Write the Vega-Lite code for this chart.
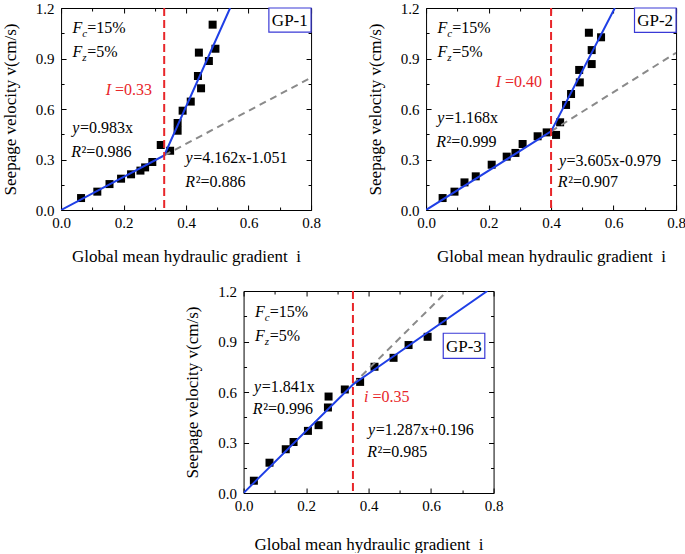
{
  "$schema": "https://vega.github.io/schema/vega-lite/v6.json",
  "background": "white",
  "padding": {"left": 0, "top": 0, "right": 0, "bottom": 0},
  "config": {
    "font": "Liberation Serif",
    "view": {"stroke": "black", "strokeWidth": 1},
    "axis": {"domain": false, "grid": false, "tickColor": "black", "tickWidth": 1, "labelFont": "Liberation Serif", "labelFontSize": 15, "labelColor": "black", "titleFont": "Liberation Serif", "titleFontSize": 17, "titleFontWeight": "normal", "titleColor": "black"}
  },
  "datasets": {
    "points": [
      {"panel": "GP-1", "i": 0.064, "v": 0.071}, {"panel": "GP-1", "i": 0.116, "v": 0.109}, {"panel": "GP-1", "i": 0.155, "v": 0.154}, {"panel": "GP-1", "i": 0.192, "v": 0.186}, {"panel": "GP-1", "i": 0.224, "v": 0.212}, {"panel": "GP-1", "i": 0.254, "v": 0.234}, {"panel": "GP-1", "i": 0.269, "v": 0.253}, {"panel": "GP-1", "i": 0.292, "v": 0.285}, {"panel": "GP-1", "i": 0.319, "v": 0.386}, {"panel": "GP-1", "i": 0.349, "v": 0.352}, {"panel": "GP-1", "i": 0.373, "v": 0.471}, {"panel": "GP-1", "i": 0.373, "v": 0.517}, {"panel": "GP-1", "i": 0.389, "v": 0.59}, {"panel": "GP-1", "i": 0.415, "v": 0.644}, {"panel": "GP-1", "i": 0.438, "v": 0.796}, {"panel": "GP-1", "i": 0.448, "v": 0.723}, {"panel": "GP-1", "i": 0.441, "v": 0.935}, {"panel": "GP-1", "i": 0.473, "v": 0.885}, {"panel": "GP-1", "i": 0.494, "v": 0.958}, {"panel": "GP-1", "i": 0.485, "v": 1.101},
      {"panel": "GP-2", "i": 0.053, "v": 0.071}, {"panel": "GP-2", "i": 0.091, "v": 0.109}, {"panel": "GP-2", "i": 0.123, "v": 0.164}, {"panel": "GP-2", "i": 0.159, "v": 0.2}, {"panel": "GP-2", "i": 0.21, "v": 0.269}, {"panel": "GP-2", "i": 0.258, "v": 0.317}, {"panel": "GP-2", "i": 0.286, "v": 0.339}, {"panel": "GP-2", "i": 0.309, "v": 0.392}, {"panel": "GP-2", "i": 0.357, "v": 0.438}, {"panel": "GP-2", "i": 0.386, "v": 0.461}, {"panel": "GP-2", "i": 0.416, "v": 0.446}, {"panel": "GP-2", "i": 0.429, "v": 0.521}, {"panel": "GP-2", "i": 0.448, "v": 0.624}, {"panel": "GP-2", "i": 0.464, "v": 0.689}, {"panel": "GP-2", "i": 0.492, "v": 0.758}, {"panel": "GP-2", "i": 0.49, "v": 0.832}, {"panel": "GP-2", "i": 0.53, "v": 0.867}, {"panel": "GP-2", "i": 0.53, "v": 0.95}, {"panel": "GP-2", "i": 0.521, "v": 1.053}, {"panel": "GP-2", "i": 0.56, "v": 1.026},
      {"panel": "GP-3", "i": 0.033, "v": 0.073}, {"panel": "GP-3", "i": 0.083, "v": 0.18}, {"panel": "GP-3", "i": 0.135, "v": 0.26}, {"panel": "GP-3", "i": 0.16, "v": 0.303}, {"panel": "GP-3", "i": 0.206, "v": 0.369}, {"panel": "GP-3", "i": 0.24, "v": 0.403}, {"panel": "GP-3", "i": 0.27, "v": 0.508}, {"panel": "GP-3", "i": 0.272, "v": 0.573}, {"panel": "GP-3", "i": 0.324, "v": 0.615}, {"panel": "GP-3", "i": 0.373, "v": 0.66}, {"panel": "GP-3", "i": 0.419, "v": 0.75}, {"panel": "GP-3", "i": 0.48, "v": 0.803}, {"panel": "GP-3", "i": 0.528, "v": 0.879}, {"panel": "GP-3", "i": 0.589, "v": 0.928}, {"panel": "GP-3", "i": 0.637, "v": 1.021}
    ],
    "fits": [
      {"panel": "GP-1", "kind": "fit", "i": 0, "v": 0}, {"panel": "GP-1", "kind": "fit", "i": 0.33, "v": 0.324}, {"panel": "GP-1", "kind": "fit", "i": 0.541, "v": 1.2},
      {"panel": "GP-1", "kind": "ext", "i": 0.33, "v": 0.324}, {"panel": "GP-1", "kind": "ext", "i": 0.8, "v": 0.786},
      {"panel": "GP-2", "kind": "fit", "i": 0, "v": 0}, {"panel": "GP-2", "kind": "fit", "i": 0.4, "v": 0.467}, {"panel": "GP-2", "kind": "fit", "i": 0.604, "v": 1.2},
      {"panel": "GP-2", "kind": "ext", "i": 0.4, "v": 0.467}, {"panel": "GP-2", "kind": "ext", "i": 0.8, "v": 0.934},
      {"panel": "GP-3", "kind": "fit", "i": 0, "v": 0}, {"panel": "GP-3", "kind": "fit", "i": 0.35, "v": 0.645}, {"panel": "GP-3", "kind": "fit", "i": 0.78, "v": 1.2},
      {"panel": "GP-3", "kind": "ext", "i": 0.35, "v": 0.645}, {"panel": "GP-3", "kind": "ext", "i": 0.652, "v": 1.2}
    ],
    "crit": [
      {"panel": "GP-1", "i": 0.33}, {"panel": "GP-2", "i": 0.4}, {"panel": "GP-3", "i": 0.35}
    ],
    "boxes": [
      {"panel": "GP-1", "x0": 0.665, "x1": 0.8, "y0": 1.057, "y1": 1.2, "tx": 0.732, "ty": 1.122, "label": "GP-1"},
      {"panel": "GP-2", "x0": 0.667, "x1": 0.8, "y0": 1.055, "y1": 1.2, "tx": 0.733, "ty": 1.12, "label": "GP-2"},
      {"panel": "GP-3", "x0": 0.639, "x1": 0.772, "y0": 0.8, "y1": 0.949, "tx": 0.705, "ty": 0.87, "label": "GP-3"}
    ],
    "notes": [
      {"panel": "GP-1", "kind": "frac", "x": 0.068, "y": 1.05, "lead": "F", "sub": "c", "rest": "=15%"},
      {"panel": "GP-1", "kind": "frac", "x": 0.068, "y": 0.907, "lead": "F", "sub": "z", "rest": "=5%"},
      {"panel": "GP-1", "kind": "crit", "x": 0.16, "y": 0.685, "lead": "I", "sub": "", "rest": "=0.33"},
      {"panel": "GP-1", "kind": "eq", "x": 0.0587, "y": 0.457, "lead": "y", "sub": "", "rest": "=0.983x"},
      {"panel": "GP-1", "kind": "eq", "x": 0.064, "y": 0.313, "lead": "R", "sub": "", "rest": "²=0.986"},
      {"panel": "GP-1", "kind": "eq", "x": 0.421, "y": 0.279, "lead": "y", "sub": "", "rest": "=4.162x-1.051"},
      {"panel": "GP-1", "kind": "eq", "x": 0.429, "y": 0.139, "lead": "R", "sub": "", "rest": "²=0.886"},
      {"panel": "GP-2", "kind": "frac", "x": 0.068, "y": 1.05, "lead": "F", "sub": "c", "rest": "=15%"},
      {"panel": "GP-2", "kind": "frac", "x": 0.068, "y": 0.907, "lead": "F", "sub": "z", "rest": "=5%"},
      {"panel": "GP-2", "kind": "crit", "x": 0.24, "y": 0.73, "lead": "I", "sub": "", "rest": "=0.40"},
      {"panel": "GP-2", "kind": "eq", "x": 0.0587, "y": 0.515, "lead": "y", "sub": "", "rest": "=1.168x"},
      {"panel": "GP-2", "kind": "eq", "x": 0.064, "y": 0.372, "lead": "R", "sub": "", "rest": "²=0.999"},
      {"panel": "GP-2", "kind": "eq", "x": 0.448, "y": 0.263, "lead": "y", "sub": "", "rest": "=3.605x-0.979"},
      {"panel": "GP-2", "kind": "eq", "x": 0.453, "y": 0.135, "lead": "R", "sub": "", "rest": "²=0.907"},
      {"panel": "GP-3", "kind": "frac", "x": 0.068, "y": 1.047, "lead": "F", "sub": "c", "rest": "=15%"},
      {"panel": "GP-3", "kind": "frac", "x": 0.068, "y": 0.902, "lead": "F", "sub": "z", "rest": "=5%"},
      {"panel": "GP-3", "kind": "eq", "x": 0.0565, "y": 0.601, "lead": "y", "sub": "", "rest": "=1.841x"},
      {"panel": "GP-3", "kind": "eq", "x": 0.061, "y": 0.472, "lead": "R", "sub": "", "rest": "²=0.996"},
      {"panel": "GP-3", "kind": "crit", "x": 0.4, "y": 0.538, "lead": "i", "sub": "", "rest": "=0.35"},
      {"panel": "GP-3", "kind": "eq", "x": 0.421, "y": 0.343, "lead": "y", "sub": "", "rest": "=1.287x+0.196"},
      {"panel": "GP-3", "kind": "eq", "x": 0.427, "y": 0.214, "lead": "R", "sub": "", "rest": "²=0.985"}
    ]
  },
  "spacing": 18,
  "center": true,
  "vconcat": [
    {
      "spacing": 44,
      "hconcat": [
        {
          "width": 250, "height": 202,
          "resolve": {"axis": {"x": "independent", "y": "independent"}},
          "layer": [
            {"data": {"name": "points"}, "transform": [{"filter": "datum.panel === 'GP-1'"}],
             "mark": {"type": "square", "size": 64, "color": "black", "opacity": 1},
             "encoding": {
               "x": {"field": "i", "type": "quantitative", "scale": {"domain": [0, 0.8], "nice": false, "zero": false},
                     "axis": {"orient": "bottom", "values": [0, 0.1, 0.2, 0.3, 0.4, 0.5, 0.6, 0.7, 0.8], "labelExpr": "round(datum.value*10)%2===0 ? format(datum.value,'.1f') : ''", "tickSize": {"condition": {"test": "round(datum.value*10)%2===0", "value": -5}, "value": -3}, "title": "Global mean hydraulic gradient\u00a0 i", "labelFlush": false, "labelOverlap": false, "labelPadding": 10, "titlePadding": 16}},
               "y": {"field": "v", "type": "quantitative", "scale": {"domain": [0, 1.2], "nice": false, "zero": false},
                     "axis": {"orient": "left", "values": [0, 0.15, 0.3, 0.45, 0.6, 0.75, 0.9, 1.05, 1.2], "labelExpr": "round(datum.value/0.15)%2===0 ? format(datum.value,'.1f') : ''", "tickSize": {"condition": {"test": "round(datum.value/0.15)%2===0", "value": -5}, "value": -3}, "title": "Seepage velocity v(cm/s)", "labelFlush": false, "labelOverlap": false, "labelPadding": 12, "titlePadding": 16}}
             }},
            {"data": {"name": "fits"}, "transform": [{"filter": "datum.panel === 'GP-1' && datum.kind === 'ext'"}],
             "mark": {"type": "line", "color": "#8a8a8a", "strokeWidth": 2, "strokeDash": [7, 5], "clip": true},
             "encoding": {"x": {"field": "i", "type": "quantitative", "axis": null}, "y": {"field": "v", "type": "quantitative", "axis": null}}},
            {"data": {"name": "fits"}, "transform": [{"filter": "datum.panel === 'GP-1' && datum.kind === 'fit'"}],
             "mark": {"type": "line", "color": "#1f3fe6", "strokeWidth": 2, "clip": true},
             "encoding": {
               "x": {"field": "i", "type": "quantitative", "axis": {"orient": "top", "values": [0, 0.1, 0.2, 0.3, 0.4, 0.5, 0.6, 0.7, 0.8], "labels": false, "title": null, "tickSize": {"condition": {"test": "round(datum.value*10)%2===0", "value": -5}, "value": -3}}},
               "y": {"field": "v", "type": "quantitative", "axis": {"orient": "right", "values": [0, 0.15, 0.3, 0.45, 0.6, 0.75, 0.9, 1.05, 1.2], "labels": false, "title": null, "tickSize": {"condition": {"test": "round(datum.value/0.15)%2===0", "value": -5}, "value": -3}}}
             }},
            {"data": {"name": "crit"}, "transform": [{"filter": "datum.panel === 'GP-1'"}],
             "mark": {"type": "rule", "color": "#e8262a", "strokeWidth": 2, "strokeDash": [8, 4]},
             "encoding": {"x": {"field": "i", "type": "quantitative", "axis": null}}},
            {"data": {"name": "boxes"}, "transform": [{"filter": "datum.panel === 'GP-1'"}],
             "mark": {"type": "rect", "fill": "white", "stroke": "#3a3ad6", "strokeWidth": 1.2},
             "encoding": {"x": {"field": "x0", "type": "quantitative", "axis": null}, "x2": {"field": "x1"}, "y": {"field": "y0", "type": "quantitative", "axis": null}, "y2": {"field": "y1"}}},
            {"data": {"name": "boxes"}, "transform": [{"filter": "datum.panel === 'GP-1'"}],
             "mark": {"type": "text", "fontSize": 17, "align": "center", "baseline": "middle", "color": "black"},
             "encoding": {"x": {"field": "tx", "type": "quantitative", "axis": null}, "y": {"field": "ty", "type": "quantitative", "axis": null}, "text": {"field": "label"}}},
            {"data": {"name": "notes"}, "transform": [{"filter": "datum.panel === 'GP-1'"}],
             "mark": {"type": "text", "fontSize": 16, "fontStyle": "italic", "align": "right", "baseline": "alphabetic"},
             "encoding": {"x": {"field": "x", "type": "quantitative", "axis": null}, "y": {"field": "y", "type": "quantitative", "axis": null}, "text": {"field": "lead"}, "color": {"condition": {"test": "datum.kind === 'crit'", "value": "#e8262a"}, "value": "black"}}},
            {"data": {"name": "notes"}, "transform": [{"filter": "datum.panel === 'GP-1' && datum.kind === 'frac'"}],
             "mark": {"type": "text", "fontSize": 11, "fontStyle": "italic", "align": "left", "baseline": "alphabetic", "dy": 4, "color": "black"},
             "encoding": {"x": {"field": "x", "type": "quantitative", "axis": null}, "y": {"field": "y", "type": "quantitative", "axis": null}, "text": {"field": "sub"}}},
            {"data": {"name": "notes"}, "transform": [{"filter": "datum.panel === 'GP-1' && datum.kind === 'frac'"}],
             "mark": {"type": "text", "fontSize": 16, "align": "left", "baseline": "alphabetic", "dx": 5, "color": "black"},
             "encoding": {"x": {"field": "x", "type": "quantitative", "axis": null}, "y": {"field": "y", "type": "quantitative", "axis": null}, "text": {"field": "rest"}}},
            {"data": {"name": "notes"}, "transform": [{"filter": "datum.panel === 'GP-1' && datum.kind === 'eq'"}],
             "mark": {"type": "text", "fontSize": 16, "align": "left", "baseline": "alphabetic", "dx": 0.5, "color": "black"},
             "encoding": {"x": {"field": "x", "type": "quantitative", "axis": null}, "y": {"field": "y", "type": "quantitative", "axis": null}, "text": {"field": "rest"}}},
            {"data": {"name": "notes"}, "transform": [{"filter": "datum.panel === 'GP-1' && datum.kind === 'crit'"}],
             "mark": {"type": "text", "fontSize": 16, "align": "left", "baseline": "alphabetic", "dx": 4, "color": "#e8262a"},
             "encoding": {"x": {"field": "x", "type": "quantitative", "axis": null}, "y": {"field": "y", "type": "quantitative", "axis": null}, "text": {"field": "rest"}}}
          ]
        },
        {
          "width": 250, "height": 202,
          "resolve": {"axis": {"x": "independent", "y": "independent"}},
          "layer": [
            {"data": {"name": "points"}, "transform": [{"filter": "datum.panel === 'GP-2'"}],
             "mark": {"type": "square", "size": 64, "color": "black", "opacity": 1},
             "encoding": {
               "x": {"field": "i", "type": "quantitative", "scale": {"domain": [0, 0.8], "nice": false, "zero": false},
                     "axis": {"orient": "bottom", "values": [0, 0.1, 0.2, 0.3, 0.4, 0.5, 0.6, 0.7, 0.8], "labelExpr": "round(datum.value*10)%2===0 ? format(datum.value,'.1f') : ''", "tickSize": {"condition": {"test": "round(datum.value*10)%2===0", "value": -5}, "value": -3}, "title": "Global mean hydraulic gradient\u00a0 i", "labelFlush": false, "labelOverlap": false, "labelPadding": 10, "titlePadding": 16}},
               "y": {"field": "v", "type": "quantitative", "scale": {"domain": [0, 1.2], "nice": false, "zero": false},
                     "axis": {"orient": "left", "values": [0, 0.15, 0.3, 0.45, 0.6, 0.75, 0.9, 1.05, 1.2], "labelExpr": "round(datum.value/0.15)%2===0 ? format(datum.value,'.1f') : ''", "tickSize": {"condition": {"test": "round(datum.value/0.15)%2===0", "value": -5}, "value": -3}, "title": "Seepage velocity v(cm/s)", "labelFlush": false, "labelOverlap": false, "labelPadding": 12, "titlePadding": 16}}
             }},
            {"data": {"name": "fits"}, "transform": [{"filter": "datum.panel === 'GP-2' && datum.kind === 'ext'"}],
             "mark": {"type": "line", "color": "#8a8a8a", "strokeWidth": 2, "strokeDash": [7, 5], "clip": true},
             "encoding": {"x": {"field": "i", "type": "quantitative", "axis": null}, "y": {"field": "v", "type": "quantitative", "axis": null}}},
            {"data": {"name": "fits"}, "transform": [{"filter": "datum.panel === 'GP-2' && datum.kind === 'fit'"}],
             "mark": {"type": "line", "color": "#1f3fe6", "strokeWidth": 2, "clip": true},
             "encoding": {
               "x": {"field": "i", "type": "quantitative", "axis": {"orient": "top", "values": [0, 0.1, 0.2, 0.3, 0.4, 0.5, 0.6, 0.7, 0.8], "labels": false, "title": null, "tickSize": {"condition": {"test": "round(datum.value*10)%2===0", "value": -5}, "value": -3}}},
               "y": {"field": "v", "type": "quantitative", "axis": {"orient": "right", "values": [0, 0.15, 0.3, 0.45, 0.6, 0.75, 0.9, 1.05, 1.2], "labels": false, "title": null, "tickSize": {"condition": {"test": "round(datum.value/0.15)%2===0", "value": -5}, "value": -3}}}
             }},
            {"data": {"name": "crit"}, "transform": [{"filter": "datum.panel === 'GP-2'"}],
             "mark": {"type": "rule", "color": "#e8262a", "strokeWidth": 2, "strokeDash": [8, 4]},
             "encoding": {"x": {"field": "i", "type": "quantitative", "axis": null}}},
            {"data": {"name": "boxes"}, "transform": [{"filter": "datum.panel === 'GP-2'"}],
             "mark": {"type": "rect", "fill": "white", "stroke": "#3a3ad6", "strokeWidth": 1.2},
             "encoding": {"x": {"field": "x0", "type": "quantitative", "axis": null}, "x2": {"field": "x1"}, "y": {"field": "y0", "type": "quantitative", "axis": null}, "y2": {"field": "y1"}}},
            {"data": {"name": "boxes"}, "transform": [{"filter": "datum.panel === 'GP-2'"}],
             "mark": {"type": "text", "fontSize": 17, "align": "center", "baseline": "middle", "color": "black"},
             "encoding": {"x": {"field": "tx", "type": "quantitative", "axis": null}, "y": {"field": "ty", "type": "quantitative", "axis": null}, "text": {"field": "label"}}},
            {"data": {"name": "notes"}, "transform": [{"filter": "datum.panel === 'GP-2'"}],
             "mark": {"type": "text", "fontSize": 16, "fontStyle": "italic", "align": "right", "baseline": "alphabetic"},
             "encoding": {"x": {"field": "x", "type": "quantitative", "axis": null}, "y": {"field": "y", "type": "quantitative", "axis": null}, "text": {"field": "lead"}, "color": {"condition": {"test": "datum.kind === 'crit'", "value": "#e8262a"}, "value": "black"}}},
            {"data": {"name": "notes"}, "transform": [{"filter": "datum.panel === 'GP-2' && datum.kind === 'frac'"}],
             "mark": {"type": "text", "fontSize": 11, "fontStyle": "italic", "align": "left", "baseline": "alphabetic", "dy": 4, "color": "black"},
             "encoding": {"x": {"field": "x", "type": "quantitative", "axis": null}, "y": {"field": "y", "type": "quantitative", "axis": null}, "text": {"field": "sub"}}},
            {"data": {"name": "notes"}, "transform": [{"filter": "datum.panel === 'GP-2' && datum.kind === 'frac'"}],
             "mark": {"type": "text", "fontSize": 16, "align": "left", "baseline": "alphabetic", "dx": 5, "color": "black"},
             "encoding": {"x": {"field": "x", "type": "quantitative", "axis": null}, "y": {"field": "y", "type": "quantitative", "axis": null}, "text": {"field": "rest"}}},
            {"data": {"name": "notes"}, "transform": [{"filter": "datum.panel === 'GP-2' && datum.kind === 'eq'"}],
             "mark": {"type": "text", "fontSize": 16, "align": "left", "baseline": "alphabetic", "dx": 0.5, "color": "black"},
             "encoding": {"x": {"field": "x", "type": "quantitative", "axis": null}, "y": {"field": "y", "type": "quantitative", "axis": null}, "text": {"field": "rest"}}},
            {"data": {"name": "notes"}, "transform": [{"filter": "datum.panel === 'GP-2' && datum.kind === 'crit'"}],
             "mark": {"type": "text", "fontSize": 16, "align": "left", "baseline": "alphabetic", "dx": 4, "color": "#e8262a"},
             "encoding": {"x": {"field": "x", "type": "quantitative", "axis": null}, "y": {"field": "y", "type": "quantitative", "axis": null}, "text": {"field": "rest"}}}
          ]
        }
      ]
    },
    {
      "width": 250, "height": 202,
      "resolve": {"axis": {"x": "independent", "y": "independent"}},
      "layer": [
        {"data": {"name": "points"}, "transform": [{"filter": "datum.panel === 'GP-3'"}],
         "mark": {"type": "square", "size": 64, "color": "black", "opacity": 1},
         "encoding": {
           "x": {"field": "i", "type": "quantitative", "scale": {"domain": [0, 0.8], "nice": false, "zero": false},
                 "axis": {"orient": "bottom", "values": [0, 0.1, 0.2, 0.3, 0.4, 0.5, 0.6, 0.7, 0.8], "labelExpr": "round(datum.value*10)%2===0 ? format(datum.value,'.1f') : ''", "tickSize": {"condition": {"test": "round(datum.value*10)%2===0", "value": -5}, "value": -3}, "title": "Global mean hydraulic gradient\u00a0 i", "labelFlush": false, "labelOverlap": false, "labelPadding": 10, "titlePadding": 21}},
           "y": {"field": "v", "type": "quantitative", "scale": {"domain": [0, 1.2], "nice": false, "zero": false},
                 "axis": {"orient": "left", "values": [0, 0.15, 0.3, 0.45, 0.6, 0.75, 0.9, 1.05, 1.2], "labelExpr": "round(datum.value/0.15)%2===0 ? format(datum.value,'.1f') : ''", "tickSize": {"condition": {"test": "round(datum.value/0.15)%2===0", "value": -5}, "value": -3}, "title": "Seepage velocity v(cm/s)", "labelFlush": false, "labelOverlap": false, "labelPadding": 12, "titlePadding": 16}}
         }},
        {"data": {"name": "fits"}, "transform": [{"filter": "datum.panel === 'GP-3' && datum.kind === 'ext'"}],
         "mark": {"type": "line", "color": "#8a8a8a", "strokeWidth": 2, "strokeDash": [7, 5], "clip": true},
         "encoding": {"x": {"field": "i", "type": "quantitative", "axis": null}, "y": {"field": "v", "type": "quantitative", "axis": null}}},
        {"data": {"name": "fits"}, "transform": [{"filter": "datum.panel === 'GP-3' && datum.kind === 'fit'"}],
         "mark": {"type": "line", "color": "#1f3fe6", "strokeWidth": 2, "clip": true},
         "encoding": {
           "x": {"field": "i", "type": "quantitative", "axis": {"orient": "top", "values": [0, 0.1, 0.2, 0.3, 0.4, 0.5, 0.6, 0.7, 0.8], "labels": false, "title": null, "tickSize": {"condition": {"test": "round(datum.value*10)%2===0", "value": -5}, "value": -3}}},
           "y": {"field": "v", "type": "quantitative", "axis": {"orient": "right", "values": [0, 0.15, 0.3, 0.45, 0.6, 0.75, 0.9, 1.05, 1.2], "labels": false, "title": null, "tickSize": {"condition": {"test": "round(datum.value/0.15)%2===0", "value": -5}, "value": -3}}}
         }},
        {"data": {"name": "crit"}, "transform": [{"filter": "datum.panel === 'GP-3'"}],
         "mark": {"type": "rule", "color": "#e8262a", "strokeWidth": 2, "strokeDash": [8, 4]},
         "encoding": {"x": {"field": "i", "type": "quantitative", "axis": null}}},
        {"data": {"name": "boxes"}, "transform": [{"filter": "datum.panel === 'GP-3'"}],
         "mark": {"type": "rect", "fill": "white", "stroke": "#3a3ad6", "strokeWidth": 1.2},
         "encoding": {"x": {"field": "x0", "type": "quantitative", "axis": null}, "x2": {"field": "x1"}, "y": {"field": "y0", "type": "quantitative", "axis": null}, "y2": {"field": "y1"}}},
        {"data": {"name": "boxes"}, "transform": [{"filter": "datum.panel === 'GP-3'"}],
         "mark": {"type": "text", "fontSize": 17, "align": "center", "baseline": "middle", "color": "black"},
         "encoding": {"x": {"field": "tx", "type": "quantitative", "axis": null}, "y": {"field": "ty", "type": "quantitative", "axis": null}, "text": {"field": "label"}}},
        {"data": {"name": "notes"}, "transform": [{"filter": "datum.panel === 'GP-3'"}],
         "mark": {"type": "text", "fontSize": 16, "fontStyle": "italic", "align": "right", "baseline": "alphabetic"},
         "encoding": {"x": {"field": "x", "type": "quantitative", "axis": null}, "y": {"field": "y", "type": "quantitative", "axis": null}, "text": {"field": "lead"}, "color": {"condition": {"test": "datum.kind === 'crit'", "value": "#e8262a"}, "value": "black"}}},
        {"data": {"name": "notes"}, "transform": [{"filter": "datum.panel === 'GP-3' && datum.kind === 'frac'"}],
         "mark": {"type": "text", "fontSize": 11, "fontStyle": "italic", "align": "left", "baseline": "alphabetic", "dy": 4, "color": "black"},
         "encoding": {"x": {"field": "x", "type": "quantitative", "axis": null}, "y": {"field": "y", "type": "quantitative", "axis": null}, "text": {"field": "sub"}}},
        {"data": {"name": "notes"}, "transform": [{"filter": "datum.panel === 'GP-3' && datum.kind === 'frac'"}],
         "mark": {"type": "text", "fontSize": 16, "align": "left", "baseline": "alphabetic", "dx": 5, "color": "black"},
         "encoding": {"x": {"field": "x", "type": "quantitative", "axis": null}, "y": {"field": "y", "type": "quantitative", "axis": null}, "text": {"field": "rest"}}},
        {"data": {"name": "notes"}, "transform": [{"filter": "datum.panel === 'GP-3' && datum.kind === 'eq'"}],
         "mark": {"type": "text", "fontSize": 16, "align": "left", "baseline": "alphabetic", "dx": 0.5, "color": "black"},
         "encoding": {"x": {"field": "x", "type": "quantitative", "axis": null}, "y": {"field": "y", "type": "quantitative", "axis": null}, "text": {"field": "rest"}}},
        {"data": {"name": "notes"}, "transform": [{"filter": "datum.panel === 'GP-3' && datum.kind === 'crit'"}],
         "mark": {"type": "text", "fontSize": 16, "align": "left", "baseline": "alphabetic", "dx": 4, "color": "#e8262a"},
         "encoding": {"x": {"field": "x", "type": "quantitative", "axis": null}, "y": {"field": "y", "type": "quantitative", "axis": null}, "text": {"field": "rest"}}}
      ]
    }
  ]
}
